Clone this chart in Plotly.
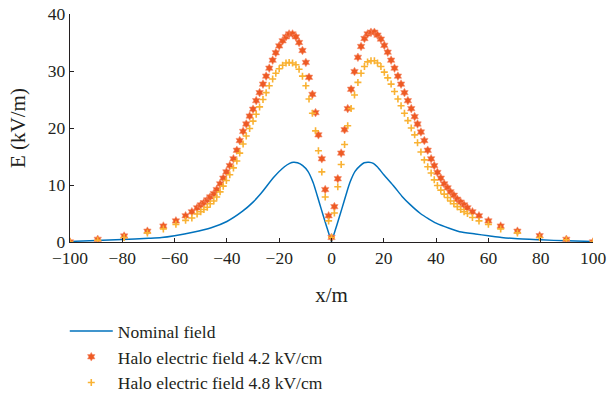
import plotly.graph_objects as go

# Nominal field (kV/m) vs x (m)
x_nom = [-100, -90, -80, -70, -65, -60, -53, -46, -40, -34, -30, -27, -22, -18, -16, -14.5,
         -13, -11, -9, -7, -5.5, -4, -2, -1, 0,
         1, 2, 4, 5.5, 7, 9, 11, 12.5, 14.3, 16, 17.5, 20, 24, 27, 30, 34, 37, 40, 45, 49, 55,
         60, 65, 70, 80, 90, 100]
e_nom = [0.1, 0.25, 0.45, 0.65, 0.78, 1.1, 1.7, 2.5, 3.6, 5.4, 7.0, 8.5, 11.4, 13.2, 13.8, 14.0,
         13.9, 13.4, 12.4, 10.4, 8.2, 5.9, 2.9, 1.45, 0.05,
         1.45, 2.9, 5.9, 8.2, 10.4, 12.4, 13.4, 13.9, 14.0, 13.8, 13.2, 11.8, 9.7, 8.0, 6.6, 5.0, 4.1,
         3.3, 2.4, 1.8, 1.4, 1.1, 0.8, 0.6, 0.38, 0.2, 0.1]

# Sample positions of the halo-field points (m)
x_halo = [-100, -89.4, -79.3, -70.4, -64.3, -59.5, -55.8, -53.4, -51.4, -50,
          -48.8, -47.5, -46.4, -45, -43.9, -42.6, -41.4, -40.2, -38.9, -37.5,
          -36.2, -35.1, -33.8, -32.6, -31.3, -30, -28.8, -27.5, -26.2, -25,
          -23.8, -22.5, -21.3, -20, -18.7, -17.4, -16.2, -14.9, -13.6, -12.4,
          -11.1, -9.8, -8.6, -7.3, -6.1, -5, -3.7, -2.4, -1.1, 0,
          1.1, 2.4, 3.7, 5, 6.2, 7.5, 8.8, 10.1, 11.3, 12.6,
          13.8, 15.1, 16.4, 17.6, 18.9, 20.2, 21.5, 22.8, 24.1, 25.4,
          26.6, 27.9, 29.2, 30.5, 31.8, 32.9, 34.2, 35.5, 36.8, 38.1,
          39.3, 40.5, 41.8, 43.1, 44.4, 45.5, 46.8, 48.1, 49.4, 50.7,
          52, 53.9, 56.4, 60, 64.7, 71.1, 79.6, 89.8, 100]

# Halo electric field 4.2 kV/cm
e_halo_42 = [0, 0.47, 1.05, 1.9, 2.8, 3.7, 4.6, 5.3, 6.0, 6.5,
             6.9, 7.4, 7.9, 8.5, 9.2, 10.2, 11.2, 12.3, 13.4, 14.6,
             16.1, 17.8, 19.4, 20.7, 22.1, 23.3, 24.8, 26.2, 27.7, 29.1,
             30.5, 31.9, 33.2, 34.4, 35.3, 36.0, 36.5, 36.5, 36.0, 35.0,
             33.6, 31.5, 28.9, 25.9, 22.7, 18.8, 14.6, 9.2, 4.6, 0.8,
             6.2, 11.1, 15.6, 19.7, 23.4, 26.8, 29.9, 32.4, 34.3, 35.7,
             36.5, 36.8, 36.8, 36.3, 35.6, 34.5, 33.3, 31.9, 30.5, 29.1,
             27.7, 26.2, 24.8, 23.4, 22.0, 20.7, 19.3, 17.8, 16.1, 14.6,
             13.4, 12.2, 11.2, 10.2, 9.5, 8.8, 8.2, 7.5, 7.0, 6.5,
             6.0, 5.3, 4.6, 3.7, 2.8, 1.9, 1.1, 0.47, 0]

# Halo electric field 4.8 kV/cm
e_halo_48 = [0, 0.3, 0.8, 1.6, 2.3, 3.1, 3.8, 4.2, 4.9, 5.3,
             5.7, 6.1, 6.7, 7.2, 7.9, 8.8, 9.8, 10.8, 11.8, 13.0,
             14.2, 15.6, 17.2, 18.6, 19.9, 21.2, 22.4, 23.7, 25.0, 26.2,
             27.4, 28.6, 29.6, 30.4, 31.0, 31.4, 31.5, 31.4, 31.1, 30.3,
             29.1, 27.4, 25.1, 22.6, 19.5, 16.0, 12.3, 7.9, 3.7, 0.8,
             5.1, 9.7, 13.6, 17.1, 20.4, 23.4, 25.8, 28.0, 29.6, 30.8,
             31.6, 31.8, 31.8, 31.4, 30.8, 29.8, 28.8, 27.7, 26.4, 25.1,
             23.9, 22.6, 21.3, 20.0, 18.8, 17.4, 15.8, 14.4, 13.2, 12.1,
             10.9, 9.9, 9.1, 8.4, 7.8, 7.2, 6.7, 6.2, 5.7, 5.3,
             5.0, 4.3, 3.7, 3.1, 2.3, 1.6, 0.8, 0.4, 0]

x_ticks = [-100, -80, -60, -40, -20, 0, 20, 40, 60, 80, 100]
y_ticks = [0, 10, 20, 30, 40]

FONT = "Liberation Serif"
TXT = "#231f20"

fig = go.Figure()
fig.add_trace(go.Scatter(x=x_nom, y=e_nom, mode="lines", name="Nominal field",
                         legendgroup="a",
                         line=dict(color="#0072BD", width=1.5, shape="spline",
                                   smoothing=0.7)))
fig.add_trace(go.Scatter(x=x_halo, y=e_halo_42, mode="markers",
                         name="Halo electric field 4.2 kV/cm", legendgroup="b",
                         marker=dict(symbol="hexagram", size=6.5, color="#EE5A24",
                                     line=dict(width=0.6, color="#F58F6E"))))
fig.add_trace(go.Scatter(x=x_halo, y=e_halo_48, mode="markers",
                         name="Halo electric field 4.8 kV/cm", legendgroup="c",
                         marker=dict(symbol="cross-thin", size=5, color="#F9B233",
                                     line=dict(width=1.6, color="#F9B233"))))

fig.update_layout(
    width=610, height=398,
    margin=dict(l=70, r=17, t=14, b=156, autoexpand=False),
    paper_bgcolor="white", plot_bgcolor="white",
    font=dict(family=FONT, size=17.5, color=TXT),
    showlegend=True,
    legend=dict(x=-0.01, y=-0.312, xanchor="left", yanchor="top",
                orientation="v", itemwidth=43, bgcolor="rgba(0,0,0,0)",
                font=dict(family=FONT, size=17.5, color=TXT), tracegroupgap=0),
)
fig.update_xaxes(range=[-100, 100], tickvals=x_ticks, ticks="inside", ticklen=4,
                 tickcolor="#231f20", showline=True, linecolor="#231f20", linewidth=1.3,
                 showgrid=False, zeroline=False, automargin=False,
                 title=dict(text="x/m", standoff=20),
                 tickfont=dict(family=FONT, size=17.5, color=TXT))
fig.update_yaxes(range=[0, 40], tickvals=y_ticks, ticks="inside", ticklen=4,
                 tickcolor="#231f20", showline=True, linecolor="#231f20", linewidth=1.3,
                 showgrid=False, zeroline=False, automargin=False,
                 title=dict(text="E (kV/m)", standoff=16),
                 tickfont=dict(family=FONT, size=17.5, color=TXT))

fig.write_html("out.html")
